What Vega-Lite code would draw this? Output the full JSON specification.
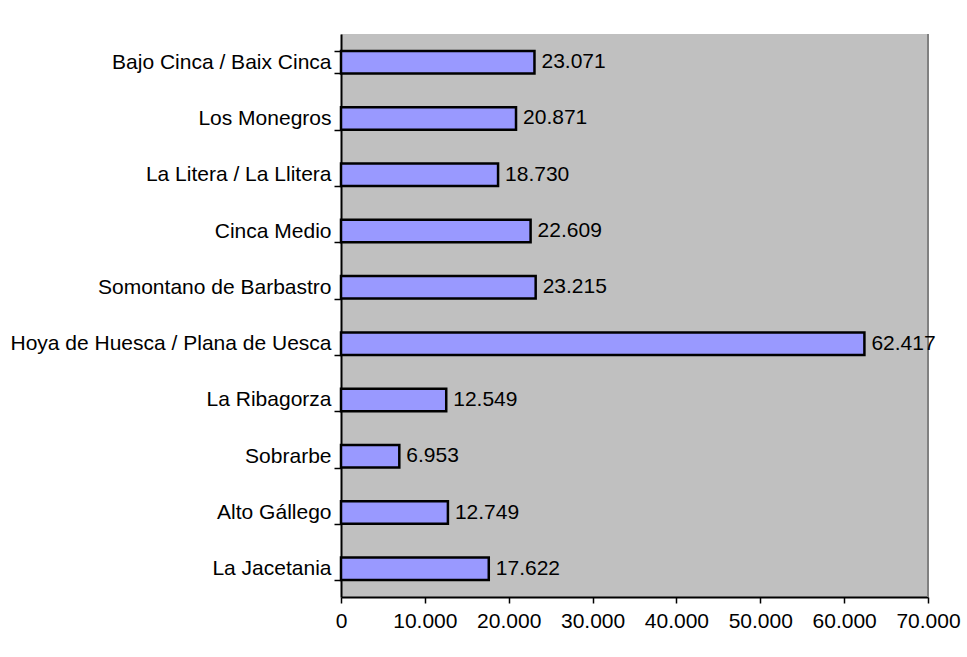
{
  "$schema": "https://vega.github.io/schema/vega-lite/v6.json",
  "autosize": "none",
  "width": 587,
  "height": 563,
  "padding": {"left": 341, "top": 34, "right": 39, "bottom": 60},
  "background": "white",
  "config": {
    "locale": {"number": {"decimal": ",", "thousands": ".", "grouping": [3], "currency": ["", " €"]}},
    "font": "Liberation Sans",
    "view": {"fill": "#C0C0C0", "stroke": null}
  },
  "data": {
    "values": [
      {"comarca": "Bajo Cinca / Baix Cinca", "valor": 23071},
      {"comarca": "Los Monegros", "valor": 20871},
      {"comarca": "La Litera / La Llitera", "valor": 18730},
      {"comarca": "Cinca Medio", "valor": 22609},
      {"comarca": "Somontano de Barbastro", "valor": 23215},
      {"comarca": "Hoya de Huesca / Plana de Uesca", "valor": 62417},
      {"comarca": "La Ribagorza", "valor": 12549},
      {"comarca": "Sobrarbe", "valor": 6953},
      {"comarca": "Alto Gállego", "valor": 12749},
      {"comarca": "La Jacetania", "valor": 17622}
    ]
  },
  "encoding": {
    "y": {
      "field": "comarca", "type": "nominal", "sort": null, "title": null,
      "scale": {"paddingInner": 0.6, "paddingOuter": 0.3},
      "axis": {
        "tickBand": "extent", "tickSize": 7, "tickColor": "black", "tickWidth": 1.5,
        "domainColor": "black", "domainWidth": 2,
        "labelFontSize": 21, "labelColor": "black", "labelPadding": 3,
        "labelFont": "Liberation Sans", "labelLimit": 400
      }
    },
    "x": {
      "field": "valor", "type": "quantitative", "title": null,
      "scale": {"domain": [0, 70000], "nice": false},
      "axis": {
        "values": [0, 10000, 20000, 30000, 40000, 50000, 60000, 70000],
        "format": ",d", "grid": false,
        "tickSize": 6, "tickColor": "black", "tickWidth": 1.5,
        "domainColor": "black", "domainWidth": 2,
        "labelFontSize": 21, "labelColor": "black", "labelPadding": 7,
        "labelFont": "Liberation Sans", "labelFlush": false
      }
    }
  },
  "layer": [
    {
      "mark": {"type": "rule", "color": "#808080", "strokeWidth": 1.5},
      "encoding": {"x": {"datum": 70000}, "y": null}
    },
    {
      "mark": {"type": "bar", "fill": "#9999FF", "stroke": "black", "strokeWidth": 2.5}
    },
    {
      "mark": {"type": "text", "align": "left", "dx": 7, "fontSize": 21, "color": "black", "font": "Liberation Sans"},
      "encoding": {"text": {"field": "valor", "type": "quantitative", "format": ",d"}}
    }
  ]
}
